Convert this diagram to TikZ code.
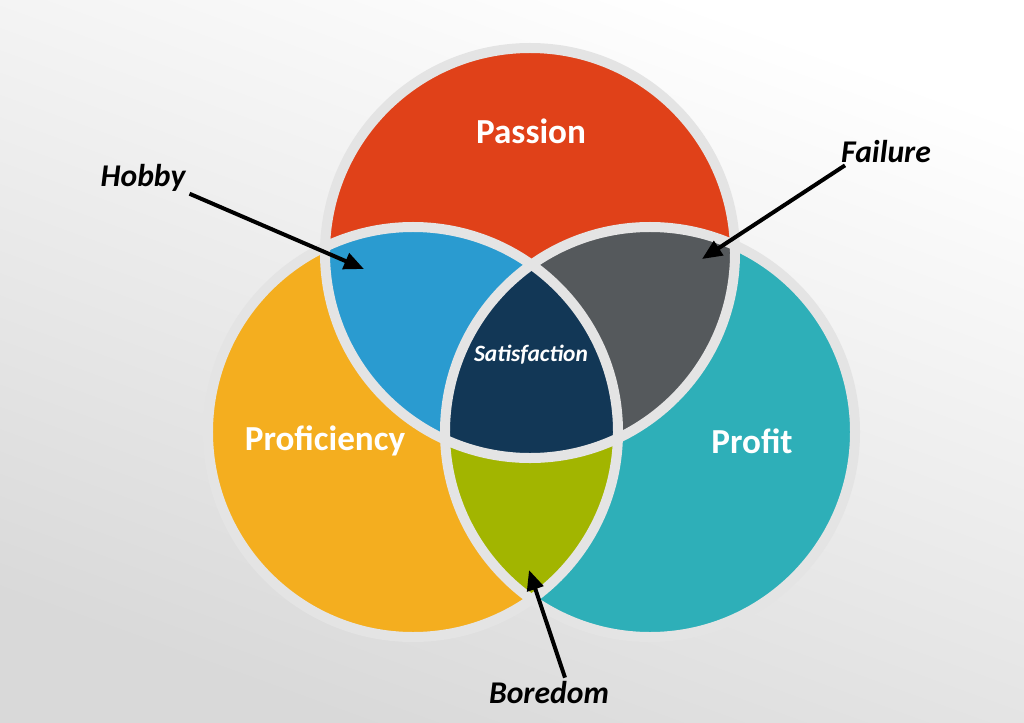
\documentclass[tikz,border=0pt]{standalone}
\usepackage{fontspec}
\setmainfont{Carlito}
\usetikzlibrary{arrows.meta}
\definecolor{passion}{HTML}{E04119}
\definecolor{proficiency}{HTML}{F4AE1F}
\definecolor{profit}{HTML}{2EAFB8}
\definecolor{hobby}{HTML}{2A9BD0}
\definecolor{failure}{HTML}{55595C}
\definecolor{boredom}{HTML}{A2B500}
\definecolor{satisf}{HTML}{123756}
\definecolor{gap}{HTML}{E4E4E4}
\begin{document}
\begin{tikzpicture}[x=0.03cm,y=-0.03cm]
  \tikzstyle{ring}=[draw=gap,line width=0.3cm]
  \tikzstyle{title}=[font=\fontsize{30}{30}\selectfont\bfseries,text=white]
  \tikzstyle{tag}=[font=\fontsize{27}{27}\selectfont\bfseries\itshape,text=black]
  \tikzstyle{pointer}=[draw=black,line width=0.12cm,-{Triangle[length=0.6cm,width=0.5cm]}]
  \def\R{6.15cm}
  % background
  \shade[top color=white,bottom color=black!15,shading angle=-20] (0,0) rectangle (1024,723);
  \useasboundingbox (0,0) rectangle (1024,723);
  % circles
  \coordinate (cpa) at (530,253);
  \coordinate (cpr) at (413,432);
  \coordinate (cpf) at (650,432);
  \fill[passion] (cpa) circle[radius=\R];
  \fill[proficiency] (cpr) circle[radius=\R];
  \fill[profit] (cpf) circle[radius=\R];
  % overlaps
  \begin{scope}
    \clip (cpa) circle[radius=\R];
    \fill[hobby] (cpr) circle[radius=\R];
    \fill[failure] (cpf) circle[radius=\R];
  \end{scope}
  \begin{scope}
    \clip (cpr) circle[radius=\R];
    \fill[boredom] (cpf) circle[radius=\R];
    \clip (cpa) circle[radius=\R];
    \fill[satisf] (cpf) circle[radius=\R];
  \end{scope}
  % outlines
  \draw[ring] (cpa) circle[radius=\R];
  \draw[ring] (cpr) circle[radius=\R];
  \draw[ring] (cpf) circle[radius=\R];
  % labels
  \node[title] (passion) at (531,131) {Passion};
  \node[title] (proficiency) at (325,441) {Proficiency};
  \node[title] (profit) at (752,441) {Profit};
  \node[font=\fontsize{20}{20}\selectfont\bfseries\itshape,text=white] (satisfaction) at (531,355) {Satisfaction};
  \node[tag] (hobby) at (143,178) {Hobby};
  \node[tag] (failure) at (886,152) {Failure};
  \node[tag] (boredom) at (549,693) {Boredom};
  \coordinate (hobbytip) at (364,269);
  \coordinate (failuretip) at (702,259);
  \coordinate (boredomtip) at (529,570);
  \draw[pointer] (hobby.south east) ++(0,-2) coordinate (h0) (h0) -- (hobbytip);
  \draw[pointer] (failure.south west) ++(8,-2) coordinate (f0) (f0) -- (failuretip);
  \draw[pointer] (boredom.north) ++(16,0) coordinate (b0) (b0) -- (boredomtip);
\end{tikzpicture}
\end{document}
